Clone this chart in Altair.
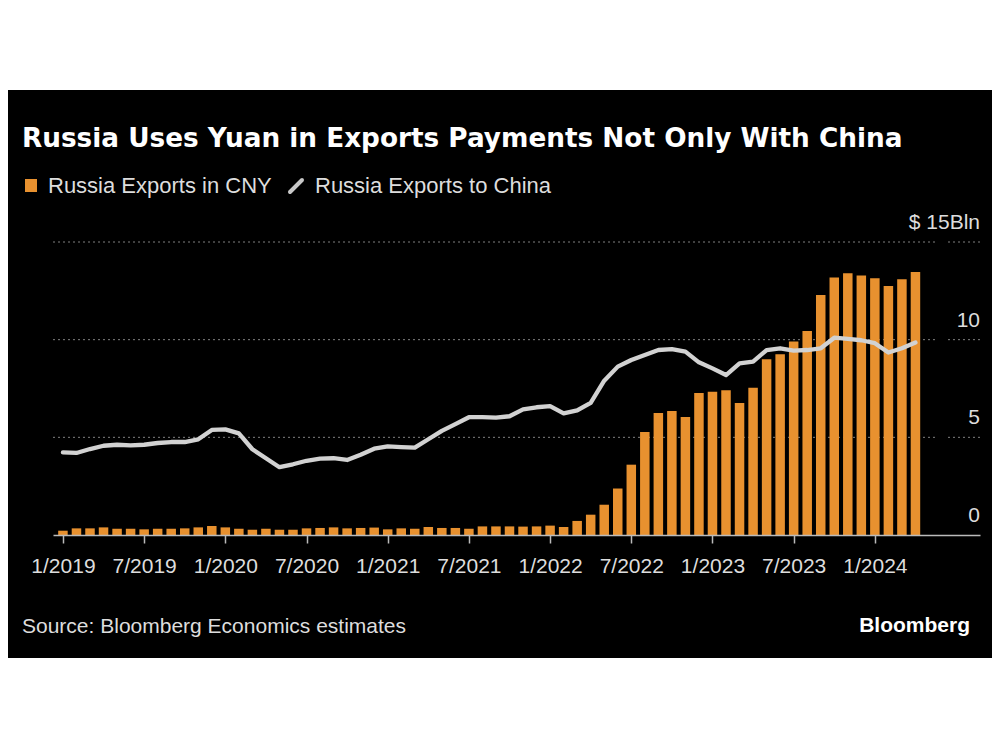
import json
import altair as alt
import pandas as pd

# ---- data ----
months = [p.strftime("%m/%Y") for p in pd.period_range("2019-01", "2024-04", freq="M")]
cny_exports = [0.22, 0.34, 0.34, 0.39, 0.32, 0.32, 0.29, 0.32, 0.32, 0.34, 0.39, 0.46,
               0.39, 0.32, 0.27, 0.32, 0.27, 0.27, 0.34, 0.36, 0.39, 0.34, 0.36, 0.38,
               0.29, 0.34, 0.32, 0.41, 0.36, 0.36, 0.32, 0.44, 0.44, 0.44, 0.43, 0.44,
               0.48, 0.41, 0.72, 1.04, 1.55, 2.38, 3.60, 5.27, 6.25, 6.35, 6.04, 7.27,
               7.34, 7.41, 6.76, 7.54, 9.00, 9.25, 9.90, 10.45, 12.29, 13.18, 13.40, 13.28,
               13.14, 12.75, 13.09, 13.47]
china_exports = [4.23, 4.20, 4.40, 4.57, 4.62, 4.59, 4.62, 4.71, 4.76, 4.76, 4.90, 5.38,
                 5.41, 5.20, 4.39, 3.93, 3.47, 3.62, 3.80, 3.91, 3.93, 3.84, 4.11, 4.42,
                 4.54, 4.50, 4.47, 4.90, 5.33, 5.68, 6.03, 6.03, 6.01, 6.08, 6.43, 6.54,
                 6.60, 6.23, 6.38, 6.77, 7.90, 8.62, 8.96, 9.22, 9.47, 9.52, 9.39, 8.84,
                 8.53, 8.19, 8.79, 8.87, 9.47, 9.56, 9.44, 9.47, 9.56, 10.10, 10.04, 9.97,
                 9.82, 9.34, 9.56, 9.85]
x_tick_values = [0, 6, 12, 18, 24, 30, 36, 42, 48, 54, 60]
x_tick_labels = ["1/2019", "7/2019", "1/2020", "7/2020", "1/2021", "7/2021",
                 "1/2022", "7/2022", "1/2023", "7/2023", "1/2024"]
y_tick_values = [0, 5, 10, 15]
y_tick_labels = ["0", "5", "10", "$ 15Bln"]
grid_values = [5, 10, 15]

df = pd.DataFrame({"i": list(range(len(months))), "month": months,
                   "cny": cny_exports, "china": china_exports})
ylab = pd.DataFrame({"y": y_tick_values, "label": y_tick_labels})
grid = pd.DataFrame({"y": grid_values})
one = pd.DataFrame({"a": [0]})

# ---- layout ----
W, H = 927, 293
SANS = "Liberation Sans, Arial, sans-serif"
ORANGE = "#E8912F"
LINE = "#D2D2D2"

x_axis = alt.Axis(values=x_tick_values,
                  labelExpr=json.dumps(x_tick_labels) + "[round(datum.value/6)]",
                  tickSize=8, tickColor="#BBBBBB", tickWidth=1.5,
                  domainColor="#BBBBBB", domainWidth=1.5,
                  labelColor="#DDDDDD", labelFont=SANS, labelFontSize=21,
                  labelBaseline="alphabetic", labelPadding=29,
                  labelFlush=False, labelOverlap=False, grid=False, title=None, zindex=1)
xs = alt.Scale(domain=[-0.365, 67.4], nice=False, zero=False)
ys = alt.Scale(domain=[0, 15], nice=False)

bg = alt.Chart(one).mark_rect(color="#000000").encode(
    x=alt.value(-45), x2=alt.value(939), y=alt.value(-152), y2=alt.value(416))

grid1 = alt.Chart(grid).mark_rule(color="#808080", strokeWidth=1, strokeDash=[2, 3]).encode(
    y=alt.Y("y:Q", scale=ys, axis=None), x=alt.value(0), x2=alt.value(882))
grid2 = alt.Chart(grid).mark_rule(color="#808080", strokeWidth=1, strokeDash=[2, 3]).encode(
    y=alt.Y("y:Q", scale=ys, axis=None), x=alt.value(895), x2=alt.value(927))

bars = alt.Chart(df).mark_bar(color=ORANGE, size=9.5).encode(
    x=alt.X("i:Q", scale=xs, axis=x_axis),
    y=alt.Y("cny:Q", scale=ys, axis=None))

line = alt.Chart(df).mark_line(color=LINE, strokeWidth=4.3, strokeJoin="round", strokeCap="round").encode(
    x=alt.X("i:Q", scale=xs, axis=x_axis),
    y=alt.Y("china:Q", scale=ys, axis=None))

ytext = alt.Chart(ylab).mark_text(align="right", baseline="alphabetic", dy=-13,
                                  font=SANS, fontSize=21, color="#DDDDDD").encode(
    y=alt.Y("y:Q", scale=ys, axis=None), x=alt.value(W), text="label:N")

title = alt.Chart(one).mark_text(align="left", baseline="alphabetic", font="DejaVu Sans",
                                 fontWeight="bold", fontSize=26.3, color="#FFFFFF").encode(
    x=alt.value(-31), y=alt.value(-95),
    text=alt.value("Russia Uses Yuan in Exports Payments Not Only With China"))

leg_sq = alt.Chart(one).mark_rect(color=ORANGE).encode(
    x=alt.value(-28), x2=alt.value(-16), y=alt.value(-63), y2=alt.value(-50))
leg_t1 = alt.Chart(one).mark_text(align="left", baseline="alphabetic", font=SANS,
                                  fontSize=22, color="#DDDDDD").encode(
    x=alt.value(-5), y=alt.value(-49), text=alt.value("Russia Exports in CNY"))
leg_ln = alt.Chart(one).mark_rule(color="#C8C8C8", strokeWidth=4, strokeCap="round").encode(
    x=alt.value(237), x2=alt.value(249), y=alt.value(-50), y2=alt.value(-62))
leg_t2 = alt.Chart(one).mark_text(align="left", baseline="alphabetic", font=SANS,
                                  fontSize=22, color="#DDDDDD").encode(
    x=alt.value(262), y=alt.value(-49), text=alt.value("Russia Exports to China"))

source = alt.Chart(one).mark_text(align="left", baseline="alphabetic", font=SANS,
                                  fontSize=21, color="#DDDDDD").encode(
    x=alt.value(-31), y=alt.value(391), text=alt.value("Source: Bloomberg Economics estimates"))
brand = alt.Chart(one).mark_text(align="right", baseline="alphabetic", font=SANS,
                                 fontWeight="bold", fontSize=21, color="#FFFFFF").encode(
    x=alt.value(917), y=alt.value(390), text=alt.value("Bloomberg"))

chart = alt.layer(bg, grid1, grid2, bars, line, ytext, title, leg_sq, leg_t1, leg_ln, leg_t2,
                  source, brand).properties(
    width=W, height=H,
    autosize=alt.AutoSizeParams(type="none"),
    padding={"left": 45, "right": 12, "top": 234, "bottom": 207},
).configure(background="#FFFFFF").configure_view(strokeWidth=0)

chart.save("out.html", embed_options={"renderer": "svg", "actions": False})
